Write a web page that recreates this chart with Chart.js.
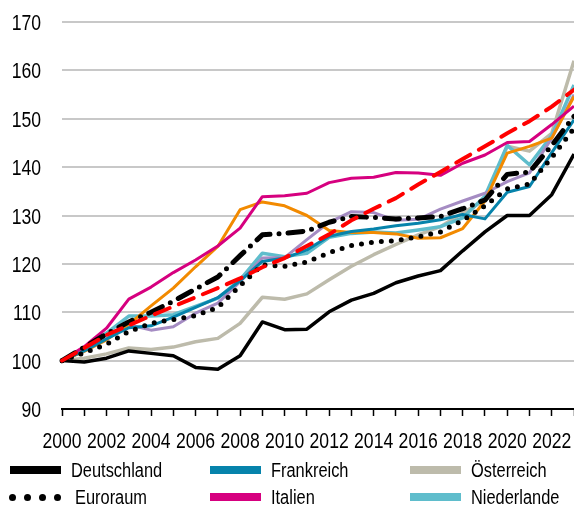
<!DOCTYPE html>
<html>
<head>
<meta charset="utf-8">
<script src="https://cdn.jsdelivr.net/npm/chart.js@4.4.1/dist/chart.umd.min.js"></script>
<style>
  body { margin:0; background:#fff; font-family:"Liberation Sans", Arial, sans-serif; }
  #wrap { position:relative; width:574px; height:505px; overflow:hidden; }
  #c { position:absolute; left:0; top:0; }
  .lg-text { position:absolute; font-size:20px; line-height:20px; color:#000; white-space:nowrap;
             transform:scaleX(0.82); transform-origin:0 50%; }
  .lg-sw { position:absolute; height:8px; }
  .lg-dot { position:absolute; width:7px; height:7px; border-radius:50%; background:#000; }
</style>
</head>
<body>
<div id="wrap">
  <canvas id="c" width="574" height="505"></canvas>
  <div id="legend"></div>
</div>
<script>
'use strict';
const years = ['2000','2001','2002','2003','2004','2005','2006','2007','2008','2009','2010','2011',
               '2012','2013','2014','2015','2016','2017','2018','2019','2020','2021','2022','2023'];
const yTicks = [90, 100, 110, 120, 130, 140, 150, 160, 170];

const deutschland = [100, 99.7, 100.5, 102.0, 101.5, 101.0, 98.6, 98.2, 101.0, 108.0, 106.4, 106.5,
                     110.1, 112.5, 113.9, 116.1, 117.5, 118.6, 122.7, 126.6, 130.0, 130.0, 134.3, 142.7];
const euroraum    = [100, 101.6, 103.4, 106.0, 107.7, 108.5, 109.3, 111.0, 115.5, 119.8, 119.5, 120.4,
                     122.3, 123.8, 124.5, 124.8, 125.6, 126.6, 129.0, 132.0, 135.5, 136.5, 142.0, 148.0];
const frankreich  = [100, 102.0, 104.5, 106.8, 107.2, 109.0, 111.0, 113.0, 116.5, 120.5, 121.2, 122.9,
                     125.7, 126.7, 127.2, 127.9, 128.4, 129.1, 130.2, 129.3, 134.8, 136.0, 143.0, 149.8];
const italien     = [100, 102.9, 106.7, 112.7, 115.2, 118.2, 120.8, 123.7, 127.4, 133.9, 134.1, 134.6,
                     136.8, 137.7, 137.9, 138.9, 138.8, 138.3, 140.8, 142.5, 145.1, 145.3, 148.8, 152.6];
const oesterreich = [100, 100.5, 101.4, 102.6, 102.3, 102.8, 103.9, 104.6, 107.7, 113.1, 112.7, 113.8,
                     116.7, 119.5, 121.9, 124.0, 126.0, 127.7, 130.5, 133.2, 144.3, 143.3, 147.0, 162.0];
const niederlande = [100, 102.5, 105.7, 109.2, 109.2, 109.5, 111.2, 112.9, 116.7, 122.2, 121.5, 122.2,
                     125.5, 126.3, 126.6, 126.4, 127.0, 127.7, 129.5, 134.0, 144.5, 140.5, 146.5, 157.0];
// series drawn but not named in the visible legend
const orangeLine  = [100, 101.9, 104.3, 107.5, 111.3, 115.0, 119.4, 123.6, 131.2, 132.8, 132.0, 130.0,
                     126.9, 126.5, 126.5, 126.2, 125.3, 125.4, 127.3, 133.0, 142.9, 144.3, 146.0, 154.6];
const purpleLine  = [100, 102.6, 105.3, 107.4, 106.3, 107.0, 109.8, 111.9, 116.3, 121.2, 121.3, 125.0,
                     128.6, 130.8, 130.6, 129.0, 129.2, 131.3, 133.0, 134.6, 137.0, 138.8, 146.0, 155.0];
const dashDotLine = [100, 102.8, 105.5, 108.0, 110.0, 112.3, 114.8, 117.3, 121.7, 126.0, 126.3, 126.8,
                     128.6, 129.8, 129.6, 129.3, 129.5, 129.8, 131.4, 133.2, 138.5, 139.0, 144.5, 150.5];
const redDashed   = [100, 102.6, 105.3, 107.3, 109.3, 111.2, 113.1, 115.0, 117.0, 119.3, 121.2, 123.7,
                     126.1, 129.0, 131.4, 133.6, 136.4, 139.0, 141.7, 144.3, 147.0, 149.5, 152.5, 156.0];

const FONT = '"Liberation Sans", Arial, sans-serif';
const NARROW = 0.8;   // horizontal squeeze to mimic the condensed face

const line = (label, data, color, width, extra = {}) => ({
  label, data, borderColor: color, backgroundColor: color, borderWidth: width,
  pointRadius: 0, tension: 0, fill: false, borderJoinStyle: 'round', ...extra,
});

// first dataset is drawn on top
const datasets = [
  line('rot', redDashed, '#ff0000', 4, { borderDash: [16, 10], borderCapStyle: 'round' }),
  line('schwarz', dashDotLine, '#000', 5, { borderDash: [15, 9, 0, 9], borderCapStyle: 'round' }),
  line('Euroraum', euroraum, '#000', 5, { borderDash: [0, 10], borderCapStyle: 'round' }),
  line('Deutschland', deutschland, '#000', 3.5),
  line('Italien', italien, '#d6007f', 3),
  line('Frankreich', frankreich, '#0683ab', 3),
  line('orange', orangeLine, '#f28a00', 3),
  line('violett', purpleLine, '#a58cc3', 3),
  line('Niederlande', niederlande, '#5fbdcc', 3.5),
  line('Österreich', oesterreich, '#bdbbab', 3.5),
];

// draws the tick labels squeezed horizontally
const narrowLabels = {
  id: 'narrowLabels',
  afterDraw(chart) {
    const { ctx, scales: { x, y } } = chart;
    ctx.save();
    ctx.fillStyle = '#000';
    ctx.font = '22px ' + FONT;
    ctx.textBaseline = 'alphabetic';
    const put = (txt, px, py, align) => {
      ctx.save();
      ctx.translate(px, py);
      ctx.scale(NARROW, 1);
      ctx.textAlign = align;
      ctx.fillText(txt, 0, 0);
      ctx.restore();
    };
    years.forEach((yr, i) => { if (i % 2 === 0) put(yr, x.getPixelForTick(i), 448, 'center'); });
    yTicks.forEach(v => put(String(v), 41, y.getPixelForValue(v) + 8, 'right'));
    ctx.restore();
  },
};

new Chart(document.getElementById('c'), {
  type: 'line',
  data: { labels: years, datasets },
  plugins: [narrowLabels],
  options: {
    responsive: false, animation: false,
    layout: { padding: { top: 22, right: 0, bottom: 0, left: 0 } },
    plugins: { legend: { display: false }, tooltip: { enabled: false } },
    scales: {
      x: {
        type: 'category',
        afterFit: s => { s.height = 96; },
        grid: { drawOnChartArea: false, drawTicks: true, tickLength: 7, color: '#000', tickWidth: 1.5 },
        border: { display: true, color: '#000', width: 2 },
        ticks: { display: false, autoSkip: false, maxRotation: 0 },
      },
      y: {
        min: 90, max: 170,
        afterFit: s => { s.width = 62; },
        afterBuildTicks: s => { s.ticks = yTicks.map(v => ({ value: v })); },
        grid: { drawTicks: false, lineWidth: 2,
                color: c => (c.tick && c.tick.value === 90 ? 'rgba(0,0,0,0)' : '#c8c8c8') },
        border: { display: false },
        ticks: { display: false },
      },
    },
  },
});

// legend (3 columns, 2 rows, column-major like the original)
const legendItems = [
  { name: 'Deutschland', col: 0, row: 0, color: '#000' },
  { name: 'Euroraum',    col: 0, row: 1, color: '#000', dots: true },
  { name: 'Frankreich',  col: 1, row: 0, color: '#0683ab' },
  { name: 'Italien',     col: 1, row: 1, color: '#d6007f' },
  { name: 'Österreich',  col: 2, row: 0, color: '#bdbbab' },
  { name: 'Niederlande', col: 2, row: 1, color: '#5fbdcc' },
];
const colX = [10, 210, 410];
const rowY = [470, 497];
const lg = document.getElementById('legend');
legendItems.forEach(it => {
  const x = colX[it.col], y = rowY[it.row];
  if (it.dots) {
    [12, 27, 42, 57].forEach(dx => {
      const d = document.createElement('div');
      d.className = 'lg-dot';
      d.style.left = (dx - 3.5) + 'px'; d.style.top = (y - 3.5) + 'px';
      lg.appendChild(d);
    });
  } else {
    const s = document.createElement('div');
    s.className = 'lg-sw';
    s.style.left = x + 'px'; s.style.top = (y - 4) + 'px';
    s.style.width = '51px'; s.style.background = it.color;
    lg.appendChild(s);
  }
  const t = document.createElement('div');
  t.className = 'lg-text';
  t.textContent = it.name;
  t.style.left = (x + (it.dots ? 65 : 61)) + 'px';
  t.style.top = (y - 10) + 'px';
  lg.appendChild(t);
});
</script>
</body>
</html>
